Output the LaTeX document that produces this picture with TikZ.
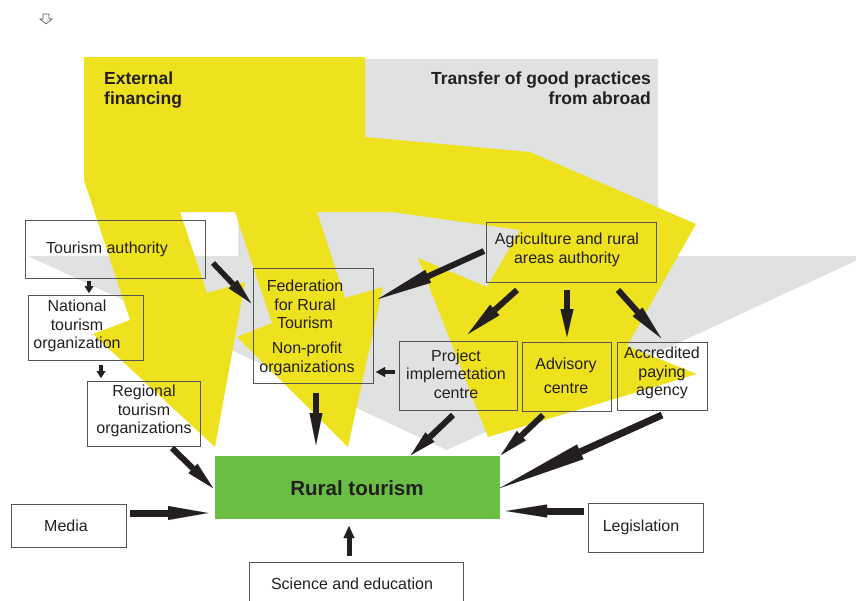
\documentclass[tikz,border=0pt]{standalone}
\usepackage{fontspec}
\setmainfont{Liberation Sans}
\usetikzlibrary{arrows.meta,calc}
\definecolor{yel}{RGB}{238,226,30}
\definecolor{gry}{RGB}{224,225,225}
\definecolor{grn}{RGB}{106,189,69}
\definecolor{ink}{RGB}{35,31,32}
\definecolor{edgec}{RGB}{85,85,85}
\begin{document}
\begin{tikzpicture}[x=1pt,y=-1pt,
  box/.style={draw=edgec, line width=0.9pt, inner sep=0pt, outer sep=0pt},
  txt/.style={text=ink, font=\fontsize{16}{18.5}\selectfont, align=center, inner sep=0pt},
  hdr/.style={text=ink, font=\bfseries\fontsize{17.5}{20}\selectfont, inner sep=0pt},
  dart/.style 2 args={draw=ink, -{Triangle[length=#1,width=#2,line width=0.01pt]}}
]
\useasboundingbox (0,0) rectangle (856,600);
\clip (0,0) rectangle (856,600);
% background shapes
\fill[gry] (365,59) -- (658,59) -- (658,256) -- (866,256) -- (447,450) -- (28,256)
  -- (238,256) -- (238,212) -- (365,212) -- cycle;
\fill[yel] (84,57) -- (365,57) -- (365,137) -- (530,152) -- (696,224) -- (627,346)
  -- (697,374) -- (488,437) -- (418,258) -- (487,287) -- (520,230) -- (392,212)
  -- (317,212) -- (345,298) -- (383,287) -- (348,447) -- (237,337) -- (272,323)
  -- (235,212) -- (180,212) -- (207,293) -- (245,282) -- (215,447) -- (93,334)
  -- (130,320) -- (84,180) -- cycle;
% small icon
\draw[edgec, line width=0.6pt, line join=miter] (43,14) -- (49,14) -- (49,19) -- (52,19) -- (46,24) -- (40,19) -- (43,19) -- cycle;
% headings
\node[hdr, anchor=north west, align=left] (ext) at (104,71.5) {External\\financing};
\node[hdr, anchor=north east, align=right] (trans) at (651,71.5) {Transfer of good practices\\from abroad};
% boxes
\node[box, minimum width=180pt, minimum height=58pt] (ta) at (115,249) {};
\node[box, minimum width=115pt, minimum height=65pt] (nt) at (85.5,327.5) {};
\node[box, minimum width=113pt, minimum height=65pt] (rt) at (143.5,413.5) {};
\node[box, minimum width=120pt, minimum height=115pt] (fed) at (313,325.5) {};
\node[box, minimum width=170pt, minimum height=60pt] (agri) at (571,252) {};
\node[box, minimum width=118pt, minimum height=69pt] (proj) at (458,375.5) {};
\node[box, minimum width=89pt, minimum height=69pt] (adv) at (566.5,376.5) {};
\node[box, minimum width=90pt, minimum height=68pt] (acc) at (662,376) {};
\node[fill=grn, minimum width=285pt, minimum height=63pt, inner sep=0pt, outer sep=0pt] (rural) at (357.5,487.5) {};
\node[box, minimum width=115pt, minimum height=43pt] (media) at (68.5,525.5) {};
\node[box, minimum width=115pt, minimum height=49pt] (leg) at (645.5,527.5) {};
\node[box, minimum width=214pt, minimum height=50pt] (sci) at (356,587) {};
% texts
\node[txt] (tat) at (107,249.5) {Tourism authority};
\node[txt] (ntt) at (77,326) {National\\tourism\\organization};
\node[txt] (rtt) at (144,411) {Regional\\tourism\\organizations};
\node[txt] (fedt1) at (305,304.5) {Federation\\for Rural\\Tourism};
\node[txt] (fedt2) at (307,359) {Non-profit\\organizations};
\node[txt] (agrit) at (567,250) {Agriculture and rural\\areas authority};
\node[txt] (projt) at (456,374) {Project\\implemetation\\centre};
\node[txt, font=\fontsize{16}{24}\selectfont] (advt) at (566,376) {Advisory\\centre};
\node[txt] (acct) at (662,373) {Accredited\\paying\\agency};
\node[text=ink, font=\bfseries\fontsize{20.5}{24}\selectfont, inner sep=0pt] (ruralt) at (357,488) {Rural tourism};
\node[txt] (mediat) at (66,526) {Media};
\node[txt] (legt) at (641,527) {Legislation};
\node[txt] (scit) at (352,584) {Science and education};
% arrows
\draw[dart={7pt}{9pt}, line width=3.5pt] ($(ta.south)+(-26,3)$) -- ($(nt.north)+(3.5,-2)$);
\draw[dart={7pt}{9pt}, line width=3.5pt] ($(nt.south)+(15.5,5)$) -- ($(rt.north)+(-42.5,-3)$);
\draw[dart={26pt}{12pt}, line width=5.5pt] ($(ta.east)+(8,14)$) -- ($(fed.west)+(-2,-22.5)$);
\draw[dart={55pt}{14pt}, line width=6pt] ($(agri.west)+(-2,-1)$) -- ($(fed.east)+(5,-26.5)$);
\draw[dart={36pt}{14pt}, line width=6pt] ($(agri.south)+(-54,8)$) -- ($(proj.north)+(10,-7)$);
\draw[dart={28pt}{13pt}, line width=6pt] ($(agri.south)+(-4,8)$) -- ($(adv.north)+(0.5,-5)$);
\draw[dart={35pt}{13pt}, line width=6pt] ($(agri.south)+(47,8)$) -- ($(acc.north)+(-1,-4)$);
\draw[dart={9pt}{10pt}, line width=4.5pt] ($(proj.west)+(-4,-3.5)$) -- ($(fed.south east)+(3,-11)$);
\draw[dart={32pt}{13pt}, line width=6pt] ($(fed.south)+(3,10)$) -- ($(rural.north)+(-41.5,-11)$);
\draw[dart={28pt}{13pt}, line width=6pt] ($(rt.south)+(28.5,2)$) -- ($(rural.west)+(-2,0.5)$);
\draw[dart={26pt}{13pt}, line width=6pt] ($(proj.south)+(-5,5)$) -- ($(rural.north)+(53.5,-1)$);
\draw[dart={28pt}{13pt}, line width=6pt] ($(adv.south)+(-23.5,4)$) -- ($(rural.north east)+(1,-1)$);
\draw[dart={88pt}{16pt}, line width=7pt] ($(acc.south)+(0,5)$) -- ($(rural.east)+(0,0.5)$);
\draw[dart={40pt}{14pt}, line width=7pt] ($(media.east)+(4,-12.5)$) -- ($(rural.west)+(-7,25.5)$);
\draw[dart={41pt}{13pt}, line width=7pt] ($(leg.west)+(-4,-16.5)$) -- ($(rural.east)+(6,23.5)$);
\draw[dart={12pt}{11pt}, line width=5pt] ($(sci.north)+(-7,-6)$) -- ($(rural.south)+(-8.5,7)$);
\end{tikzpicture}
\end{document}
